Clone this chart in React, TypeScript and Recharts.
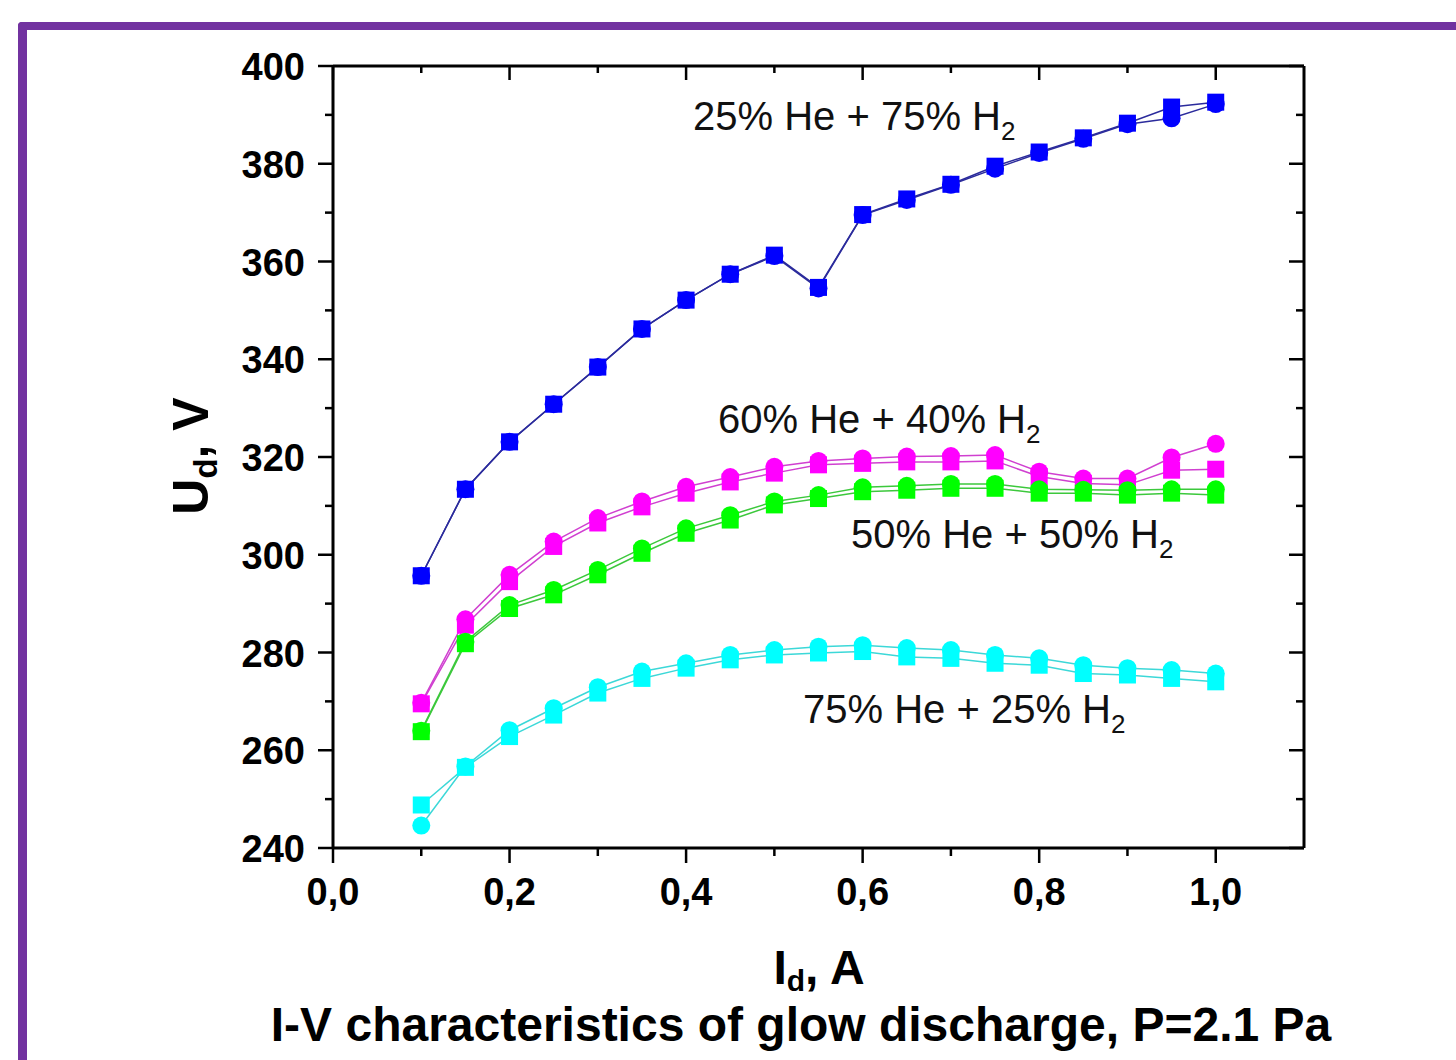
import React from "react";
import { LineChart, Line, XAxis, YAxis } from "recharts";

const FONT = "'Liberation Sans', Arial, sans-serif";

// discharge current, A
const currents = [0.1, 0.15, 0.2, 0.25, 0.3, 0.35, 0.4, 0.45, 0.5, 0.55, 0.6, 0.65, 0.7, 0.75, 0.8, 0.85, 0.9, 0.95, 1.0];

// discharge voltage, V (two runs per mixture: circles / squares)
const he25Circles = [295.7, 313.4, 323.1, 330.8, 338.4, 346.2, 352.1, 357.4, 361.1, 354.5, 369.5, 372.6, 375.7, 379.0, 382.2, 385.1, 388.1, 389.3, 392.2];
const he25Squares = [295.7, 313.4, 323.1, 330.8, 338.4, 346.2, 352.1, 357.4, 361.3, 354.7, 369.6, 372.8, 375.8, 379.5, 382.4, 385.3, 388.3, 391.6, 392.6];
const he60Circles = [269.7, 286.8, 295.9, 302.7, 307.5, 310.9, 313.9, 315.9, 318.0, 319.2, 319.7, 320.1, 320.2, 320.4, 317.0, 315.6, 315.6, 319.9, 322.7];
const he60Squares = [269.5, 285.6, 294.5, 301.7, 306.5, 309.8, 312.6, 314.9, 316.7, 318.4, 318.7, 319.0, 319.0, 319.2, 316.0, 314.6, 314.3, 317.3, 317.5];
const he50Circles = [264.0, 282.2, 289.7, 292.8, 296.9, 301.3, 305.4, 308.1, 310.9, 312.2, 313.8, 314.1, 314.5, 314.5, 313.4, 313.3, 313.2, 313.4, 313.4];
const he50Squares = [263.8, 281.8, 289.0, 291.8, 295.9, 300.3, 304.4, 307.1, 310.2, 311.5, 312.9, 313.2, 313.6, 313.6, 312.6, 312.6, 312.2, 312.6, 312.2];
const he75Circles = [244.6, 256.7, 264.1, 268.6, 272.9, 276.1, 277.8, 279.5, 280.5, 281.2, 281.5, 280.9, 280.5, 279.5, 278.8, 277.4, 276.8, 276.4, 275.7];
const he75Squares = [248.8, 256.5, 262.8, 267.2, 271.7, 274.7, 276.8, 278.5, 279.5, 279.9, 280.2, 279.1, 278.8, 277.8, 277.4, 275.7, 275.4, 274.7, 274.0];

const xTicks = [0, 0.1, 0.2, 0.3, 0.4, 0.5, 0.6, 0.7, 0.8, 0.9, 1.0];
const yTicks = [240, 250, 260, 270, 280, 290, 300, 310, 320, 330, 340, 350, 360, 370, 380, 390, 400];

const rows = currents.map((x, i) => ({
  x,
  he25c: he25Circles[i],
  he25s: he25Squares[i],
  he60c: he60Circles[i],
  he60s: he60Squares[i],
  he50c: he50Circles[i],
  he50s: he50Squares[i],
  he75c: he75Circles[i],
  he75s: he75Squares[i],
}));

const SERIES = [
  { key: "he25", marker: "#0000FF", line: "#2B2B9C" },
  { key: "he60", marker: "#FF00FF", line: "#D040D0" },
  { key: "he50", marker: "#00FF00", line: "#3CC83C" },
  { key: "he75", marker: "#00FFFF", line: "#3CD8D8" },
];

const isMajorX = (v: number) => Math.round(v * 10) % 2 === 0;
const isMajorY = (v: number) => Math.round(v) % 20 === 0;

function BottomTick({ x, y, payload }: any) {
  const v = payload.value as number;
  const major = isMajorX(v);
  return (
    <g>
      <line x1={x} x2={x} y1={y} y2={y + (major ? 15 : 8)} stroke="#000" strokeWidth={2.5} />
      {major && (
        <text x={x} y={y + 57} textAnchor="middle" fontFamily={FONT} fontWeight="bold" fontSize={38} fill="#000">
          {v.toFixed(1).replace(".", ",")}
        </text>
      )}
    </g>
  );
}

function TopTick({ x, y, payload }: any) {
  const major = isMajorX(payload.value);
  return <line x1={x} x2={x} y1={y} y2={y + (major ? 14 : 7)} stroke="#000" strokeWidth={2.5} />;
}

function LeftTick({ x, y, payload }: any) {
  const v = payload.value as number;
  const major = isMajorY(v);
  return (
    <g>
      <line x1={x - (major ? 15 : 8)} x2={x} y1={y} y2={y} stroke="#000" strokeWidth={2.5} />
      {major && (
        <text x={x - 28} y={y + 14} textAnchor="end" fontFamily={FONT} fontWeight="bold" fontSize={38} fill="#000">
          {v}
        </text>
      )}
    </g>
  );
}

function RightTick({ x, y, payload }: any) {
  const major = isMajorY(payload.value);
  return <line x1={x - (major ? 15 : 8)} x2={x} y1={y} y2={y} stroke="#000" strokeWidth={2.5} />;
}

const circleDot = (color: string) => (p: any) => (
  <circle key={`c-${p.index}`} cx={p.cx} cy={p.cy} r={9} fill={color} stroke="none" />
);
const squareDot = (color: string) => (p: any) => (
  <rect key={`s-${p.index}`} x={p.cx - 8.5} y={p.cy - 8.5} width={17} height={17} fill={color} stroke="none" />
);

const axisLine = { stroke: "#000", strokeWidth: 3 };

export default function App() {
  return (
    <div style={{ position: "absolute", left: 0, top: 0, width: 1456, height: 1060, overflow: "hidden", background: "#fff" }}>
      <div
        style={{
          position: "absolute",
          left: 18,
          top: 22,
          width: 1500,
          height: 1100,
          borderTop: "8px solid #7232A0",
          borderLeft: "9px solid #7232A0",
          borderTopLeftRadius: 4,
        }}
      />
      <div style={{ position: "absolute", left: 0, top: 0 }}>
        <LineChart width={1456} height={1060} data={rows} margin={{ top: 65, right: 151, bottom: 152, left: 253 }}>
          <XAxis
            xAxisId="b"
            dataKey="x"
            type="number"
            domain={[0, 1.1]}
            allowDataOverflow
            ticks={xTicks}
            interval={0}
            height={60}
            tickSize={0}
            tickMargin={0}
            tickLine={false}
            axisLine={axisLine}
            tick={BottomTick}
          />
          <XAxis
            xAxisId="t"
            orientation="top"
            dataKey="x"
            type="number"
            domain={[0, 1.1]}
            allowDataOverflow
            ticks={xTicks}
            interval={0}
            height={1}
            tickSize={0}
            tickMargin={0}
            tickLine={false}
            axisLine={axisLine}
            tick={TopTick}
          />
          <YAxis
            yAxisId="l"
            type="number"
            domain={[240, 400]}
            allowDataOverflow
            ticks={yTicks}
            interval={0}
            width={80}
            tickSize={0}
            tickMargin={0}
            tickLine={false}
            axisLine={axisLine}
            tick={LeftTick}
          />
          <YAxis
            yAxisId="r"
            orientation="right"
            type="number"
            domain={[240, 400]}
            allowDataOverflow
            ticks={yTicks}
            interval={0}
            width={1}
            tickSize={0}
            tickMargin={0}
            tickLine={false}
            axisLine={axisLine}
            tick={RightTick}
          />
          {SERIES.map((s) => (
            <Line
              key={`${s.key}s`}
              xAxisId="b"
              yAxisId="l"
              dataKey={`${s.key}s`}
              type="linear"
              stroke={s.line}
              strokeWidth={1.5}
              dot={squareDot(s.marker)}
              activeDot={false}
              isAnimationActive={false}
            />
          ))}
          {SERIES.map((s) => (
            <Line
              key={`${s.key}c`}
              xAxisId="b"
              yAxisId="l"
              dataKey={`${s.key}c`}
              type="linear"
              stroke={s.line}
              strokeWidth={1.5}
              dot={circleDot(s.marker)}
              activeDot={false}
              isAnimationActive={false}
            />
          ))}
        </LineChart>
      </div>
      <svg
        width={1456}
        height={1060}
        style={{ position: "absolute", left: 0, top: 0, pointerEvents: "none" }}
        fontFamily={FONT}
      >
        <text x={693} y={130} fontSize={40} fill="#111">
          25% He + 75% H<tspan fontSize={26} dy={10}>2</tspan>
        </text>
        <text x={718} y={433} fontSize={40} fill="#111">
          60% He + 40% H<tspan fontSize={26} dy={10}>2</tspan>
        </text>
        <text x={851} y={548} fontSize={40} fill="#111">
          50% He + 50% H<tspan fontSize={26} dy={10}>2</tspan>
        </text>
        <text x={803} y={723} fontSize={40} fill="#111">
          75% He + 25% H<tspan fontSize={26} dy={10}>2</tspan>
        </text>
        <text transform="translate(208,456) rotate(-90)" textAnchor="middle" fontSize={50} fontWeight="bold" fill="#000">
          U<tspan fontSize={33} dy={9}>d</tspan>
          <tspan dy={-9}>, V</tspan>
        </text>
        <text x={819} y={984} textAnchor="middle" fontSize={48} fontWeight="bold" fill="#000">
          I<tspan fontSize={30} dy={7}>d</tspan>
          <tspan dy={-7}>, A</tspan>
        </text>
        <text x={801} y={1041} textAnchor="middle" fontSize={48} fontWeight="bold" fill="#000">
          I-V characteristics of glow discharge, P=2.1 Pa
        </text>
      </svg>
    </div>
  );
}
